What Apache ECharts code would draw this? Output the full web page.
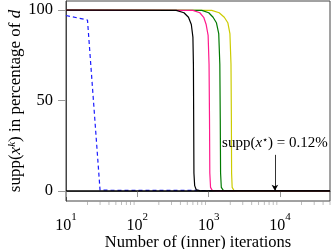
<!DOCTYPE html>
<html><head><meta charset="utf-8">
<script src="https://cdn.jsdelivr.net/npm/echarts@6/dist/echarts.min.js"></script>
<style>html,body{margin:0;padding:0;background:#fff}#c{width:332px;height:249px}</style>
</head><body><div id="c"></div>
<script>
var xMin = 10, xMax = 50000, yMin = -5.5, yMax = 105;
var yTicks = [0, 50, 100];
var xMajorTicks = [10, 100, 1000, 10000];
var xMinorTicks = [20,30,40,50,60,70,80,90,200,300,400,500,600,700,800,900,2000,3000,4000,5000,6000,7000,8000,9000,20000,30000,40000,50000];
var blueDashed = [[10,97],[20,94.5],[30,0.5],[60,0.4],[200,0.4],[1000,0.3],[5000,0.3],[50000,0.3]];
var blackCurve = [[10,100],[350,99.8],[450,98.5],[520,96],[570,92],[600,85],[610,70],[615,40],[620,10],[635,3],[670,0.6],[750,0.2],[50000,0.12]];
var pinkCurve = [[10,100],[600,99.8],[750,98.5],[850,96],[920,92],[980,86],[1010,70],[1025,40],[1035,10],[1060,2],[1120,0.4],[1300,0.15],[50000,0.12]];
var greenCurve = [[10,100],[800,99.8],[1000,98.5],[1150,96],[1280,93],[1380,87],[1430,70],[1450,40],[1465,10],[1500,2],[1600,0.4],[1800,0.15],[50000,0.12]];
var yellowCurve = [[10,100],[1100,99.8],[1400,98.5],[1650,96],[1850,93],[1980,87],[2050,70],[2075,40],[2090,10],[2130,2],[2250,0.4],[2500,0.15],[50000,0.12]];
var xStarLine = [[10,0.12],[50000,0.12]];
var annotX = 8450, annotTextY = 26.5, annotArrowStart = 20, annotArrowEnd = 0.12;

var serif = 'Liberation Serif';
var chart = echarts.init(document.getElementById('c'), null, {renderer:'canvas'});
function line(data, color, w, dashed) {
  return {type:'line', data:data, symbol:'none', silent:true, animation:false, clip:true,
    lineStyle:{color:color, width:w, type: dashed ? [4,3] : 'solid'}};
}
var series = [
  line(blueDashed, '#1a1aff', 1.2, true),
  line(yellowCurve, '#cccc00', 1.2),
  line(greenCurve, '#007a00', 1.2),
  line(pinkCurve, '#ff1a8c', 1.2),
  line(blackCurve, '#000000', 1.2),
  Object.assign(line(xStarLine, '#000000', 1.2), {
    markLine:{silent:true, animation:false, symbol:['none','arrow'], symbolSize:[5,6],
      lineStyle:{color:'#000', width:0.8, type:'solid'}, label:{show:false},
      data:[[{coord:[annotX, annotArrowStart]},{coord:[annotX, annotArrowEnd]}]]},
    markPoint:{silent:true, animation:false, symbol:'circle', symbolSize:0,
      label:{show:true, position:'inside', color:'#000',
        formatter:'{a|supp(}{i|x}{s|⋆}{a|) = 0.12%}',
        rich:{a:{fontFamily:serif,fontSize:15,color:'#000'}, i:{fontFamily:serif,fontStyle:'italic',fontSize:15,color:'#000'}, s:{fontFamily:serif,fontSize:10,color:'#000',verticalAlign:'top',padding:[0,0,6,0]}}},
      data:[{coord:[annotX, annotTextY]}]}
  }),
  {type:'scatter', data:xMinorTicks.map(function(v){return [v, yMin];}), symbol:'rect', symbolSize:[0.8,4], symbolOffset:[0,2],
    itemStyle:{color:'#999'}, clip:false, silent:true, animation:false, z:1}
];
chart.setOption({
  animation:false,
  grid:{left:66, right:2, top:1, bottom:48, show:true, borderColor:'#444', borderWidth:1, containLabel:false, outerBoundsMode:'none'},
  xAxis:{type:'log', min:xMin, max:xMax, logBase:10,
    axisLine:{show:true, lineStyle:{color:'#444', width:1}},
    axisTick:{show:true, length:6, inside:false, lineStyle:{color:'#999'}, customValues:xMajorTicks},
    minorTick:{show:false},
    splitLine:{show:false},
    axisLabel:{margin:11, customValues:xMajorTicks, formatter:function(v){var e=Math.round(Math.log10(v)); return '{b|10}{s|'+e+'}';},
      rich:{b:{fontFamily:serif,fontSize:16,color:'#000',padding:[6,0,0,0]}, s:{fontFamily:serif,fontSize:11,color:'#000',verticalAlign:'top'}}},
    name:'Number of (inner) iterations', nameLocation:'middle', nameGap:33, nameMoveOverlap:false,
    nameTextStyle:{fontFamily:serif, fontSize:16.5, color:'#000'}
  },
  yAxis:{type:'value', min:yMin, max:yMax,
    axisLine:{show:true, lineStyle:{color:'#444', width:1}},
    axisTick:{show:true, length:8, lineStyle:{color:'#999'}, customValues:yTicks},
    axisLabel:{margin:13, fontFamily:serif, fontSize:16.5, color:'#000', customValues:yTicks},
    splitLine:{show:false},
    name:'{a|supp(}{i|x}{s|k}{a|) in percentage of }{i|d}', nameLocation:'middle', nameGap:42, nameRotate:90, nameMoveOverlap:false,
    nameTextStyle:{rich:{a:{fontFamily:serif,fontSize:17,color:'#000'}, i:{fontFamily:serif,fontStyle:'italic',fontSize:17,color:'#000'}, s:{fontFamily:serif,fontStyle:'italic',fontSize:11,color:'#000',verticalAlign:'top'}}}
  },
  series:series
});
</script></body></html>
